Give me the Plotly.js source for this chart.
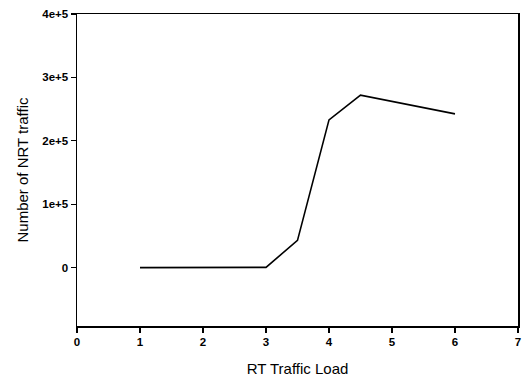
<!DOCTYPE html>
<html>
<head>
<meta charset="utf-8">
<script src="https://cdn.plot.ly/plotly-3.0.1.min.js"></script>
<style>html,body{margin:0;padding:0;background:#fff;}#chart{width:525px;height:380px;}</style>
</head>
<body>
<div id="chart"></div>
<script>
const rtLoad = [1, 3, 3.5, 4, 4.5, 6];
const nrtTraffic = [0, 500, 43000, 233000, 272000, 242500];
const yTickVals = [0, 100000, 200000, 300000, 400000];
const yTickText = ["0", "1e+5", "2e+5", "3e+5", "4e+5"];
const xTickVals = [0, 1, 2, 3, 4, 5, 6, 7];

const trace = {
  x: rtLoad, y: nrtTraffic, type: 'scatter', mode: 'lines',
  line: {color: '#000', width: 1.6}, showlegend: false
};
const fontFam = '"Liberation Sans", Arial, sans-serif';
const layout = {
  width: 525, height: 380,
  margin: {l: 77, r: 7, t: 14, b: 54},
  paper_bgcolor: '#fff', plot_bgcolor: '#fff',
  font: {family: fontFam, color: '#000'},
  xaxis: {
    range: [0, 7], tickvals: xTickVals, ticks: 'outside', ticklen: 5, tickwidth: 1.2,
    tickcolor: '#000', showgrid: false, zeroline: false,
    showline: true, linecolor: '#000', linewidth: 1.5, mirror: true,
    tickfont: {size: 11.5, family: fontFam, weight: 'bold'},
    title: {text: 'RT Traffic Load', font: {size: 15, family: fontFam}, standoff: 16}
  },
  yaxis: {
    range: [-92000, 400000], tickvals: yTickVals, ticktext: yTickText,
    ticks: 'outside', ticklen: 5, tickwidth: 1.2, tickcolor: '#000',
    showgrid: false, zeroline: false,
    showline: true, linecolor: '#000', linewidth: 1.5, mirror: true,
    tickfont: {size: 11.5, family: fontFam, weight: 'bold'},
    title: {text: 'Number of NRT traffic', font: {size: 15, family: fontFam}, standoff: 10}
  }
};
Plotly.newPlot('chart', [trace], layout, {staticPlot: true, displayModeBar: false});
</script>
</body>
</html>
